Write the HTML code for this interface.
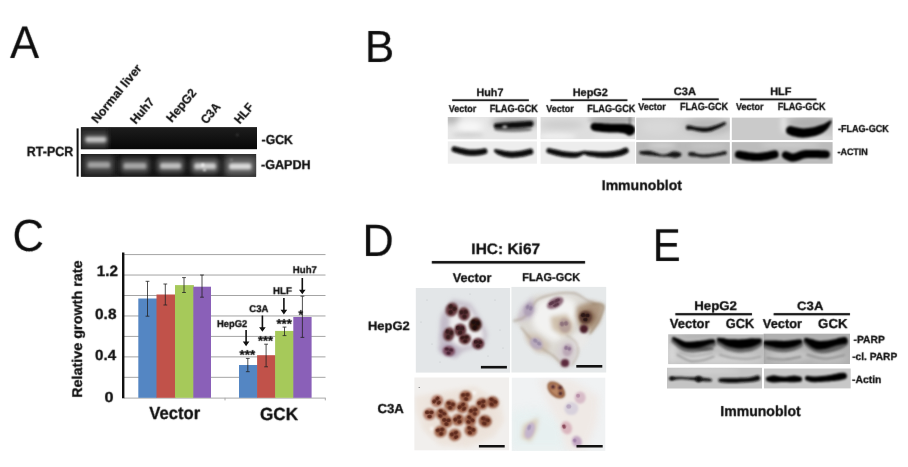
<!DOCTYPE html>
<html lang="en">
<head>
<meta charset="utf-8">
<title>Figure: GCK expression and growth</title>
<style>
html,body{margin:0;padding:0;background:#fff;}
body{width:908px;height:467px;overflow:hidden;}
svg{display:block;font-family:'Liberation Sans',Arial,Helvetica,sans-serif;text-rendering:geometricPrecision;}
</style>
</head>
<body>
<svg width="908" height="467" viewBox="0 0 908 467">
<defs>
<filter id="b03" filterUnits="userSpaceOnUse" x="0" y="0" width="908" height="467"><feConvolveMatrix order="3" kernelMatrix="0 1 0 1 12 1 0 1 0" divisor="16" edgeMode="none" preserveAlpha="false"/></filter>
<filter id="b06" filterUnits="userSpaceOnUse" x="0" y="0" width="908" height="467"><feGaussianBlur stdDeviation="0.8"/></filter>
<filter id="b1" filterUnits="userSpaceOnUse" x="0" y="0" width="908" height="467"><feGaussianBlur stdDeviation="1"/></filter>
<filter id="b15" filterUnits="userSpaceOnUse" x="0" y="0" width="908" height="467"><feGaussianBlur stdDeviation="1.5"/></filter>
<filter id="b2" filterUnits="userSpaceOnUse" x="0" y="0" width="908" height="467"><feGaussianBlur stdDeviation="2"/></filter>
<filter id="b3" filterUnits="userSpaceOnUse" x="0" y="0" width="908" height="467"><feGaussianBlur stdDeviation="3"/></filter>
<filter id="b5" filterUnits="userSpaceOnUse" x="0" y="0" width="908" height="467"><feGaussianBlur stdDeviation="5"/></filter>
</defs>
<rect x="0" y="0" width="908" height="467" fill="#ffffff"/>

<g id="panel-letters" filter="url(#b03)">
<text transform="translate(10.06 57.74) scale(0.9555 1)" font-size="45.77" font-weight="normal" fill="#0c0c0c" stroke="#0c0c0c" stroke-width="0.12" stroke-linejoin="round">A</text>
<text transform="translate(364.72 61.69) scale(0.9811 1)" font-size="45.12" font-weight="normal" fill="#0c0c0c" stroke="#0c0c0c" stroke-width="0.12" stroke-linejoin="round">B</text>
<text transform="translate(12.38 251.19) scale(0.9648 1)" font-size="45.18" font-weight="normal" fill="#0c0c0c" stroke="#0c0c0c" stroke-width="0.12" stroke-linejoin="round">C</text>
<text transform="translate(362.60 255.64) scale(0.9539 1)" font-size="45.33" font-weight="normal" fill="#0c0c0c" stroke="#0c0c0c" stroke-width="0.12" stroke-linejoin="round">D</text>
<text transform="translate(652.81 260.69) scale(0.9067 1)" font-size="46.20" font-weight="normal" fill="#0c0c0c" stroke="#0c0c0c" stroke-width="0.12" stroke-linejoin="round">E</text>
</g>
<g id="panelA">
<clipPath id="cA1"><rect x="80.9" y="127.1" width="176.1" height="22.1"/></clipPath>
<clipPath id="cA2"><rect x="80.9" y="154" width="175.2" height="22.8"/></clipPath>
<linearGradient id="gA1" x1="0" y1="0" x2="0" y2="1"><stop offset="0" stop-color="#1d1d1d"/><stop offset="1" stop-color="#070707"/></linearGradient>
<rect x="80.9" y="127.1" width="176.1" height="22.1" fill="url(#gA1)" />
<g clip-path="url(#cA1)">
<rect x="80" y="128" width="28" height="22" fill="#2c2c2c" filter="url(#b2)"/>
<rect x="83.5" y="134.2" width="24.5" height="10.5" rx="4" fill="#5c5c5c" filter="url(#b2)"/>
<rect x="85.4" y="137" width="20.8" height="5.2" rx="2.4" fill="#c4c4c4" filter="url(#b15)"/>
<circle cx="237.3" cy="134.9" r="1.1" fill="#4a4a4a" filter="url(#b06)"/>
</g>
<rect x="80.9" y="154" width="175.2" height="22.8" fill="#141414" />
<g clip-path="url(#cA2)">
<rect x="224" y="153" width="36" height="25" fill="#3c3c3c" filter="url(#b3)"/>
<rect x="81" y="153" width="34" height="25" fill="#262626" filter="url(#b3)"/>
<rect x="84.1" y="156.4" width="29.60000000000001" height="16" rx="5" fill="#464646" filter="url(#b2)"/>
<rect x="119.9" y="157.4" width="30.0" height="16" rx="5" fill="#484848" filter="url(#b2)"/>
<rect x="156.5" y="157.3" width="28.19999999999999" height="16" rx="5" fill="#505050" filter="url(#b2)"/>
<rect x="190.7" y="157.7" width="28.80000000000001" height="16" rx="5" fill="#585858" filter="url(#b2)"/>
<rect x="225.5" y="157.9" width="29.400000000000006" height="16" rx="5" fill="#626262" filter="url(#b2)"/>
<rect x="87.6" y="161.8" width="22.60000000000001" height="6.2" rx="2.6" fill="#a0a0a0" filter="url(#b15)"/>
<rect x="123.4" y="162.8" width="23.0" height="6.2" rx="2.6" fill="#a6a6a6" filter="url(#b15)"/>
<rect x="160.0" y="162.70000000000002" width="21.19999999999999" height="6.2" rx="2.6" fill="#bebebe" filter="url(#b15)"/>
<rect x="194.2" y="163.1" width="21.80000000000001" height="6.2" rx="2.6" fill="#cccccc" filter="url(#b15)"/>
<rect x="229.0" y="163.3" width="22.400000000000006" height="6.2" rx="2.6" fill="#dadada" filter="url(#b15)"/>
<circle cx="202.8" cy="165.1" r="1.5" fill="#fff" filter="url(#b06)"/>
<circle cx="204.5" cy="169.9" r="1.2" fill="#fff" filter="url(#b06)"/>
<circle cx="231.5" cy="159.8" r="0.9" fill="#aaa" filter="url(#b06)"/>
</g>
<rect x="76.6" y="128.4" width="2" height="48.2" fill="#111" />
<g filter="url(#b03)">
<text transform="translate(26.84 155.55) scale(0.9347 1)" font-size="13.33" font-weight="bold" fill="#111" stroke="#111" stroke-width="0.3" stroke-linejoin="round">RT-PCR</text>
<text transform="translate(261.56 143.65) scale(0.9501 1)" font-size="12.90" font-weight="bold" fill="#111" stroke="#111" stroke-width="0.3" stroke-linejoin="round">-GCK</text>
<text transform="translate(260.95 169.25) scale(0.9764 1)" font-size="12.90" font-weight="bold" fill="#111" stroke="#111" stroke-width="0.3" stroke-linejoin="round">-GAPDH</text>
<text transform="translate(97.50 123.70) rotate(-50.8) translate(0.15 -0.15) scale(1.0097 1) translate(-0.80 0)" font-size="12.32" font-weight="bold" fill="#111" stroke="#111" stroke-width="0.2" stroke-linejoin="round">Normal liver</text>
<text transform="translate(136.30 124.50) rotate(-49.5) translate(0.15 -0.15) scale(0.9626 1) translate(-0.80 0)" font-size="12.32" font-weight="bold" fill="#111" stroke="#111" stroke-width="0.2" stroke-linejoin="round">Huh7</text>
<text transform="translate(172.20 122.60) rotate(-49.5) translate(0.15 -0.15) scale(0.9929 1) translate(-0.80 0)" font-size="12.32" font-weight="bold" fill="#111" stroke="#111" stroke-width="0.2" stroke-linejoin="round">HepG2</text>
<text transform="translate(206.50 124.60) rotate(-49.5) translate(0.15 -0.15) scale(0.9397 1) translate(-0.49 0)" font-size="12.32" font-weight="bold" fill="#111" stroke="#111" stroke-width="0.2" stroke-linejoin="round">C3A</text>
<text transform="translate(240.30 124.20) rotate(-49.5) translate(0.15 -0.15) scale(0.9416 1) translate(-0.80 0)" font-size="12.32" font-weight="bold" fill="#111" stroke="#111" stroke-width="0.2" stroke-linejoin="round">HLF</text>
</g>
</g>
<g id="panelB">
<clipPath id="cl1"><rect x="447.8" y="117" width="89.1" height="22.3"/></clipPath>
<rect x="447.8" y="117" width="89.1" height="22.3" fill="#e6e6e6"/>
<g clip-path="url(#cl1)">
<ellipse cx="451" cy="119" rx="9" ry="5" fill="#b4b4b4" opacity="1" filter="url(#b3)"/>
<ellipse cx="470" cy="126.5" rx="13" ry="5.5" fill="#f8f8f8" opacity="1" filter="url(#b3)"/>
<ellipse cx="468" cy="134.8" rx="16" ry="1.6" fill="#c4c4c4" opacity="1" filter="url(#b2)"/>
<ellipse cx="515" cy="122.5" rx="24" ry="6" fill="#a6a6a6" opacity="1" filter="url(#b3)"/>
<ellipse cx="515" cy="137.2" rx="22" ry="2.6" fill="#e6e6e6" opacity="1" filter="url(#b2)"/>
<ellipse cx="513" cy="129.4" rx="19" ry="2.6" fill="#6c6c6c" opacity="0.85" filter="url(#b1)"/>
<path d="M496.3,123.3 L497.1,123.2 L498.3,123.1 L499.7,123.0 L501.3,122.8 L502.9,122.7 L504.0,122.6 L505.2,122.5 L506.5,122.4 L507.8,122.4 L509.1,122.3 L510.5,122.2 L511.8,122.1 L513.1,122.0 L514.3,122.0 L515.6,121.9 L516.9,121.8 L518.2,121.7 L519.4,121.7 L520.6,121.6 L521.8,121.5 L523.1,121.4 L524.5,121.3 L525.9,121.2 L527.2,121.1 L528.4,121.0 L529.4,121.0 L530.1,120.9 A3.00,3.00 0 0 1 530.7,126.9 L529.9,127.0 L528.9,127.1 L527.7,127.2 L526.4,127.3 L525.0,127.5 L523.6,127.6 L522.2,127.7 L521.0,127.8 L519.7,127.8 L518.5,127.9 L517.2,127.9 L515.9,128.0 L514.6,128.0 L513.4,128.0 L512.2,128.1 L510.8,128.2 L509.5,128.2 L508.1,128.3 L506.8,128.4 L505.5,128.4 L504.3,128.5 L503.1,128.5 L501.6,128.5 L500.0,128.5 L498.6,128.5 L497.4,128.5 L496.5,128.5 A2.60,2.60 0 0 1 496.3,123.3Z" fill="#0a0a0a" opacity="1" filter="url(#b06)"/>
<ellipse cx="504.8" cy="127.0" rx="2.6" ry="1.7" fill="#b0b0b0" opacity="1" filter="url(#b06)"/>
</g>
<clipPath id="cl2"><rect x="447.8" y="141.4" width="89.1" height="22.3"/></clipPath>
<rect x="447.8" y="141.4" width="89.1" height="22.3" fill="#eeeeee"/>
<g clip-path="url(#cl2)">
<path d="M455.2,146.5 L456.0,146.7 L457.2,147.0 L458.5,147.3 L459.9,147.7 L461.4,148.0 L462.7,148.3 L463.9,148.5 L465.2,148.8 L466.5,149.0 L467.7,149.2 L468.9,149.4 L470.1,149.5 L471.3,149.6 L472.6,149.6 L473.9,149.6 L475.2,149.5 L476.5,149.4 L477.7,149.3 L479.1,149.2 L480.7,148.9 L482.2,148.7 L483.5,148.4 L484.4,148.3 A3.00,3.00 0 0 1 485.6,154.1 L484.6,154.3 L483.3,154.6 L481.8,154.9 L480.0,155.3 L478.3,155.5 L476.9,155.6 L475.5,155.7 L474.1,155.8 L472.6,155.8 L471.2,155.8 L469.7,155.7 L468.2,155.6 L466.8,155.4 L465.4,155.2 L464.0,154.9 L462.7,154.6 L461.3,154.3 L459.9,154.0 L458.4,153.6 L456.9,153.1 L455.6,152.7 L454.4,152.3 L453.6,152.1 A2.90,2.90 0 0 1 455.2,146.5Z" fill="#080808" opacity="1" filter="url(#b06)"/>
<path d="M496.3,149.3 L497.1,149.4 L498.4,149.6 L499.9,149.7 L500.8,149.9 L501.9,150.2 L503.1,150.4 L504.3,150.7 L505.6,150.9 L506.6,151.0 L507.7,151.2 L508.8,151.3 L509.9,151.4 L511.1,151.5 L512.3,151.5 L513.3,151.5 L514.4,151.4 L515.6,151.3 L516.8,151.2 L518.0,151.1 L519.2,151.0 L520.4,150.8 L521.5,150.6 L522.7,150.4 L524.0,150.1 L525.3,149.8 L526.5,149.5 L527.7,149.2 L528.7,148.9 L529.4,148.7 A3.10,3.10 0 0 1 531.0,154.7 L530.3,154.9 L529.3,155.1 L528.1,155.5 L526.8,155.8 L525.4,156.2 L523.9,156.5 L522.5,156.8 L521.3,156.9 L520.0,157.1 L518.7,157.3 L517.4,157.4 L516.1,157.5 L514.8,157.6 L513.5,157.7 L512.3,157.7 L510.8,157.7 L509.4,157.6 L508.0,157.4 L506.8,157.2 L505.6,157.0 L504.4,156.7 L503.0,156.4 L501.6,156.0 L500.4,155.6 L499.2,155.1 L498.1,154.7 L496.7,153.8 L495.6,152.9 L494.9,152.3 A1.60,1.60 0 0 1 496.3,149.3Z" fill="#080808" opacity="1" filter="url(#b06)"/>
</g>
<clipPath id="cl3"><rect x="540.6" y="117" width="94.4" height="22.1"/></clipPath>
<rect x="540.6" y="117" width="94.4" height="22.1" fill="#dedede"/>
<g clip-path="url(#cl3)">
<ellipse cx="562" cy="124.5" rx="22" ry="4.5" fill="#cdcdcd" opacity="1" filter="url(#b3)"/>
<ellipse cx="556" cy="136.5" rx="20" ry="3" fill="#f0f0f0" opacity="1" filter="url(#b2)"/>
<ellipse cx="612" cy="119.8" rx="24" ry="4" fill="#a8a8a8" opacity="1" filter="url(#b2)"/>
<ellipse cx="612" cy="137.2" rx="20" ry="2.2" fill="#e8e8e8" opacity="1" filter="url(#b2)"/>
<rect x="628.8" y="117" width="1.8" height="8" fill="#7a7a7a" filter="url(#b1)"/>
<path d="M595.1,122.7 L595.9,122.8 L597.0,122.9 L598.2,122.9 L599.6,123.0 L601.0,123.1 L602.4,123.2 L603.5,123.3 L604.7,123.4 L606.0,123.4 L607.3,123.5 L608.6,123.6 L609.9,123.7 L611.1,123.7 L612.4,123.7 L613.6,123.7 L614.9,123.7 L616.3,123.7 L617.6,123.7 L618.9,123.7 L620.3,123.7 L622.0,123.7 L623.7,123.8 L625.2,123.8 L626.7,123.9 L628.3,124.1 L630.7,124.5 L632.2,125.0 A5.60,5.60 0 0 1 627.0,135.0 L626.8,134.6 L625.7,133.9 L625.2,133.7 L624.0,133.4 L622.7,133.1 L621.2,132.9 L619.7,132.7 L618.7,132.6 L617.5,132.6 L616.3,132.5 L615.0,132.5 L613.6,132.5 L612.2,132.5 L610.9,132.5 L609.5,132.4 L608.2,132.4 L606.8,132.3 L605.5,132.3 L604.2,132.2 L602.9,132.1 L601.6,132.0 L600.2,131.8 L598.7,131.6 L597.3,131.4 L596.0,131.2 L594.9,131.0 L594.1,130.9 A4.10,4.10 0 0 1 595.1,122.7Z" fill="#050505" opacity="1" filter="url(#b06)"/>
</g>
<clipPath id="cl4"><rect x="540.6" y="141.7" width="94.4" height="22.1"/></clipPath>
<rect x="540.6" y="141.7" width="94.4" height="22.1" fill="#ededed"/>
<g clip-path="url(#cl4)">
<path d="M549.5,148.2 L550.3,148.4 L551.5,148.6 L552.8,148.9 L554.3,149.2 L555.7,149.5 L556.9,149.8 L558.0,150.1 L559.2,150.3 L560.3,150.6 L561.6,150.9 L563.1,151.1 L564.1,151.3 L565.3,151.4 L566.6,151.5 L567.9,151.7 L569.3,151.8 L570.6,151.9 L571.9,152.0 L573.1,152.1 L574.1,152.2 L575.0,152.2 L576.4,152.2 L577.4,152.1 L578.4,152.0 L579.4,151.8 L580.3,151.6 L582.1,151.2 L584.0,150.8 L585.6,150.8 L586.7,150.9 L588.5,151.0 L589.2,151.1 L590.3,151.2 L591.5,151.2 L592.8,151.3 L594.2,151.4 L595.5,151.5 L596.8,151.6 L598.0,151.7 L599.1,151.7 L600.6,151.8 L601.9,151.8 L603.2,151.8 L604.4,151.8 L605.6,151.8 L606.9,151.7 L608.1,151.6 L609.4,151.5 L610.6,151.4 L611.8,151.3 L612.9,151.1 L614.0,150.9 L615.4,150.7 L616.6,150.5 L617.8,150.2 L619.0,149.9 L620.0,149.7 L621.4,149.2 L622.8,148.6 L624.0,148.1 L625.0,147.7 A3.00,3.00 0 0 1 627.4,153.1 L626.6,153.6 L625.2,154.2 L623.6,154.9 L622.0,155.5 L620.6,155.9 L619.2,156.3 L617.8,156.6 L616.4,156.8 L615.0,157.1 L613.7,157.2 L612.4,157.4 L611.1,157.5 L609.8,157.6 L608.5,157.7 L607.1,157.7 L605.8,157.7 L604.5,157.7 L603.1,157.7 L601.7,157.7 L600.3,157.6 L598.7,157.5 L597.5,157.4 L596.3,157.2 L594.9,157.0 L593.6,156.8 L592.2,156.6 L590.9,156.4 L589.7,156.2 L588.6,156.0 L587.5,155.8 L585.6,155.1 L584.7,154.4 L584.4,154.2 L583.3,154.6 L581.7,155.6 L580.8,156.0 L579.9,156.5 L578.7,157.1 L577.1,157.5 L575.2,157.8 L574.1,157.8 L572.8,157.8 L571.5,157.8 L570.2,157.7 L568.8,157.6 L567.4,157.4 L566.0,157.3 L564.7,157.2 L563.4,157.0 L562.3,156.9 L560.6,156.6 L559.1,156.3 L557.8,156.0 L556.5,155.7 L555.4,155.4 L554.3,155.1 L552.9,154.7 L551.4,154.3 L550.1,153.8 L548.9,153.5 L548.1,153.2 A2.60,2.60 0 0 1 549.5,148.2Z" fill="#080808" opacity="1" filter="url(#b06)"/>
</g>
<clipPath id="cl5"><rect x="636.2" y="117.6" width="93.6" height="22.3"/></clipPath>
<rect x="636.2" y="117.6" width="93.6" height="22.3" fill="#d2d2d2"/>
<g clip-path="url(#cl5)">
<ellipse cx="708" cy="126" rx="24" ry="8" fill="#b8b8b8" opacity="1" filter="url(#b3)"/>
<ellipse cx="660" cy="127" rx="18" ry="8" fill="#d8d8d8" opacity="1" filter="url(#b3)"/>
<path d="M688.3,125.3 L689.5,125.5 L691.3,125.8 L692.5,126.1 L693.7,126.4 L695.3,126.7 L696.3,126.9 L697.5,127.0 L698.8,127.2 L700.2,127.3 L701.5,127.5 L702.7,127.6 L703.8,127.6 L705.1,127.6 L706.3,127.5 L707.4,127.4 L708.5,127.2 L709.5,127.0 L710.7,126.8 L711.7,126.5 L712.7,126.2 L713.9,125.8 L715.2,125.4 L716.6,125.0 L718.0,124.5 L719.3,124.0 L720.6,123.5 L722.0,123.0 L723.1,122.5 L724.0,122.1 A1.40,1.40 0 0 1 725.2,124.7 L724.4,125.1 L723.3,125.7 L722.0,126.5 L720.7,127.2 L719.4,127.8 L718.0,128.4 L716.6,129.0 L715.3,129.6 L714.2,130.1 L713.1,130.5 L711.8,131.0 L710.5,131.4 L709.3,131.6 L708.0,131.8 L706.7,132.0 L705.2,132.0 L703.6,132.0 L702.3,131.9 L701.0,131.7 L699.6,131.4 L698.2,131.2 L696.9,130.9 L695.7,130.7 L694.7,130.5 L692.9,130.1 L691.7,129.9 L690.7,129.8 L689.2,129.8 L688.1,129.9 A2.30,2.30 0 0 1 688.3,125.3Z" fill="#101010" opacity="1" filter="url(#b06)"/>
</g>
<clipPath id="cl6"><rect x="636.2" y="142.1" width="93.6" height="21.6"/></clipPath>
<rect x="636.2" y="142.1" width="93.6" height="21.6" fill="#bababa"/>
<g clip-path="url(#cl6)">
<ellipse cx="662" cy="145.5" rx="14" ry="2.5" fill="#d2d2d2" opacity="1" filter="url(#b2)"/>
<ellipse cx="708" cy="146" rx="18" ry="2.5" fill="#c6c6c6" opacity="1" filter="url(#b2)"/>
<path d="M641.0,151.1 L642.0,151.0 L643.5,150.9 L645.1,150.8 L646.3,150.8 L647.6,150.8 L649.0,150.8 L650.5,151.0 L652.0,151.4 L653.5,151.8 L654.9,152.4 L656.3,152.8 L657.5,153.2 L658.8,153.7 L660.0,154.1 L661.1,154.4 L662.3,154.6 L663.7,154.5 L665.1,154.4 L666.5,154.1 L667.8,153.7 L669.2,153.1 L670.4,152.4 L671.8,151.8 L673.3,151.5 L674.8,151.4 L676.0,151.4 L678.0,151.9 L679.4,152.5 A2.10,2.10 0 0 1 679.4,156.7 L678.0,157.3 L676.0,157.8 L674.7,157.8 L673.4,157.6 L672.2,157.4 L671.1,157.1 L669.8,156.9 L668.2,156.7 L666.8,156.6 L665.3,156.7 L663.8,156.7 L662.1,156.6 L660.8,156.5 L659.5,156.4 L658.2,156.3 L656.9,156.1 L655.7,156.0 L654.1,155.8 L652.6,155.6 L651.2,155.5 L649.9,155.4 L648.7,155.3 L647.4,155.2 L646.1,155.1 L644.9,155.0 L643.3,154.8 L641.8,154.5 L640.8,154.3 A1.60,1.60 0 0 1 641.0,151.1Z" fill="#121212" opacity="1" filter="url(#b06)"/>
<path d="M690.3,152.0 L691.5,152.0 L693.3,152.1 L694.7,152.6 L696.0,153.2 L697.3,153.6 L698.7,153.9 L700.1,154.1 L701.6,154.3 L702.8,154.3 L704.2,154.3 L705.5,154.2 L706.9,154.1 L708.2,154.0 L709.4,153.9 L710.8,153.7 L712.2,153.5 L713.4,153.4 L714.7,153.2 L716.1,153.0 L717.4,152.8 L718.7,152.5 L720.0,152.2 L721.5,151.8 L722.9,151.4 L724.2,151.1 L725.1,150.9 A1.90,1.90 0 0 1 725.9,154.5 L725.1,154.7 L723.8,155.0 L722.3,155.3 L720.8,155.6 L719.3,155.9 L717.9,156.1 L716.6,156.3 L715.2,156.5 L713.9,156.7 L712.6,156.9 L711.2,157.1 L709.8,157.2 L708.5,157.4 L707.1,157.5 L705.7,157.6 L704.2,157.6 L702.8,157.6 L701.4,157.5 L699.7,157.3 L698.1,157.0 L696.7,156.8 L695.2,156.6 L693.8,156.5 L692.7,156.5 L691.2,156.3 L690.1,156.2 A2.10,2.10 0 0 1 690.3,152.0Z" fill="#1a1a1a" opacity="1" filter="url(#b06)"/>
</g>
<clipPath id="cl7"><rect x="731.8" y="117.6" width="100.8" height="22.4"/></clipPath>
<rect x="731.8" y="117.6" width="100.8" height="22.4" fill="#cacaca"/>
<g clip-path="url(#cl7)">
<ellipse cx="812" cy="123" rx="24" ry="7" fill="#b0b0b0" opacity="1" filter="url(#b3)"/>
<ellipse cx="783.5" cy="124" rx="3" ry="10" fill="#e2e2e2" opacity="1" filter="url(#b2)"/>
<ellipse cx="815" cy="138.4" rx="20" ry="2" fill="#e2e2e2" opacity="1" filter="url(#b2)"/>
<path d="M791.8,126.2 L792.6,126.4 L793.7,126.7 L794.8,127.0 L796.1,127.2 L797.0,127.4 L798.2,127.6 L799.3,127.9 L800.5,128.1 L801.6,128.2 L802.5,128.3 L803.7,128.4 L804.9,128.3 L806.1,128.3 L807.4,128.1 L808.6,128.0 L809.8,127.8 L811.0,127.6 L812.1,127.4 L813.1,127.2 L814.3,127.0 L815.3,126.7 L816.3,126.4 L817.4,126.1 L818.6,125.7 L819.9,125.3 L821.1,125.0 L822.2,124.6 L823.4,124.2 L824.5,123.7 L825.7,123.1 L827.0,122.3 L828.5,121.5 L829.5,120.8 A1.20,1.20 0 0 1 831.3,122.4 L830.8,123.5 L830.0,125.1 L829.1,126.7 L828.2,128.0 L827.2,129.3 L825.8,130.6 L824.6,131.5 L823.3,132.4 L821.9,133.2 L820.6,133.9 L819.3,134.5 L818.1,135.0 L816.7,135.5 L815.3,136.0 L814.0,136.3 L812.6,136.6 L811.3,136.8 L809.9,137.1 L808.6,137.3 L807.0,137.5 L805.5,137.6 L803.7,137.7 L801.9,137.7 L800.5,137.6 L799.1,137.4 L797.7,137.2 L796.4,136.9 L795.1,136.6 L793.9,136.4 L792.3,135.9 L790.8,135.4 L789.7,134.9 L789.0,134.6 A4.40,4.40 0 0 1 791.8,126.2Z" fill="#050505" opacity="1" filter="url(#b06)"/>
</g>
<clipPath id="cl8"><rect x="731.8" y="142.1" width="100.8" height="21.6"/></clipPath>
<rect x="731.8" y="142.1" width="100.8" height="21.6" fill="#bcbcbc"/>
<g clip-path="url(#cl8)">
<ellipse cx="790" cy="145" rx="30" ry="2.5" fill="#cecece" opacity="1" filter="url(#b2)"/>
<path d="M738.9,150.8 L739.8,150.8 L741.2,151.0 L742.8,151.2 L743.8,151.4 L744.9,151.6 L746.1,151.8 L747.3,152.0 L748.6,152.2 L749.6,152.4 L750.7,152.5 L751.8,152.6 L753.0,152.7 L754.2,152.8 L755.3,152.9 L756.4,152.9 L757.5,152.9 L758.7,152.9 L759.9,152.8 L761.0,152.7 L762.2,152.6 L763.3,152.5 L764.4,152.3 L765.7,152.1 L767.1,151.9 L768.4,151.6 L769.8,151.3 L770.9,151.0 L771.9,150.8 L773.3,150.5 L773.7,150.5 A4.00,4.00 0 0 1 775.5,158.3 L775.1,158.5 L773.7,158.8 L772.8,159.0 L771.6,159.3 L770.2,159.6 L768.7,159.9 L767.1,160.2 L765.6,160.5 L764.3,160.6 L763.0,160.8 L761.7,160.9 L760.4,161.0 L759.0,161.0 L757.7,161.1 L756.4,161.1 L755.0,161.1 L753.7,161.0 L752.3,160.9 L751.0,160.8 L749.8,160.6 L748.6,160.5 L747.4,160.4 L746.0,160.2 L744.6,159.9 L743.3,159.7 L742.2,159.4 L741.2,159.2 L739.7,158.9 L738.4,158.5 L737.5,158.2 A3.80,3.80 0 0 1 738.9,150.8Z" fill="#050505" opacity="1" filter="url(#b06)"/>
<path d="M787.0,151.6 L788.0,152.0 L789.7,152.6 L790.8,153.0 L791.9,153.4 L792.6,153.5 L793.1,153.4 L794.2,153.2 L795.5,152.9 L796.7,152.5 L797.8,152.1 L799.0,151.6 L800.5,150.9 L802.4,150.4 L804.1,150.2 L805.7,150.0 L807.2,150.0 L808.6,150.0 L809.9,150.0 L811.3,150.0 L812.7,150.0 L814.0,150.0 L815.3,150.1 L816.5,150.1 L818.0,150.1 L819.4,150.1 L820.8,150.2 L822.1,150.2 L823.7,150.3 L825.1,150.3 L826.1,150.4 A3.90,3.90 0 0 1 825.9,158.2 L824.9,158.2 L823.5,158.2 L821.9,158.2 L820.7,158.2 L819.3,158.2 L817.8,158.1 L816.3,158.1 L815.1,158.1 L813.8,158.0 L812.5,158.0 L811.3,158.0 L810.1,158.0 L808.7,158.0 L807.4,158.1 L806.1,158.2 L805.0,158.3 L804.2,158.4 L803.2,158.7 L802.2,159.1 L800.9,159.7 L799.3,160.3 L797.7,160.8 L796.1,161.2 L794.3,161.6 L792.2,161.7 L789.7,161.3 L787.8,160.5 L786.3,159.8 L784.6,158.9 L783.4,158.0 A3.70,3.70 0 0 1 787.0,151.6Z" fill="#050505" opacity="1" filter="url(#b06)"/>
</g>
<g filter="url(#b03)">
<text transform="translate(476.45 96.23) scale(0.9974 1)" font-size="10.80" font-weight="bold" fill="#111" stroke="#111" stroke-width="0.3" stroke-linejoin="round">Huh7</text>
<text transform="translate(572.74 96.23) scale(1.0106 1)" font-size="10.80" font-weight="bold" fill="#111" stroke="#111" stroke-width="0.3" stroke-linejoin="round">HepG2</text>
<text transform="translate(673.71 95.48) scale(1.0264 1)" font-size="10.80" font-weight="bold" fill="#111" stroke="#111" stroke-width="0.3" stroke-linejoin="round">C3A</text>
<text transform="translate(770.19 95.38) scale(1.0138 1)" font-size="10.80" font-weight="bold" fill="#111" stroke="#111" stroke-width="0.3" stroke-linejoin="round">HLF</text>
<rect x="452.1" y="99.3" width="76.8" height="1.8" fill="#111" />
<rect x="550.6" y="99.3" width="76.8" height="1.8" fill="#111" />
<rect x="642" y="98.35" width="76.8" height="1.9" fill="#111" />
<rect x="740" y="98.45" width="76.5" height="1.9" fill="#111" />
<text transform="translate(448.86 111.60) scale(0.9079 1)" font-size="9.86" font-weight="bold" fill="#111" stroke="#111" stroke-width="0.3" stroke-linejoin="round">Vector</text>
<text transform="translate(546.21 111.60) scale(0.9112 1)" font-size="9.86" font-weight="bold" fill="#111" stroke="#111" stroke-width="0.3" stroke-linejoin="round">Vector</text>
<text transform="translate(638.36 110.10) scale(0.9129 1)" font-size="9.86" font-weight="bold" fill="#111" stroke="#111" stroke-width="0.3" stroke-linejoin="round">Vector</text>
<text transform="translate(736.01 110.10) scale(0.9112 1)" font-size="9.86" font-weight="bold" fill="#111" stroke="#111" stroke-width="0.3" stroke-linejoin="round">Vector</text>
<text transform="translate(489.65 111.85) scale(0.8772 1)" font-size="10.43" font-weight="bold" fill="#111" stroke="#111" stroke-width="0.3" stroke-linejoin="round">FLAG-GCK</text>
<text transform="translate(587.16 111.85) scale(0.8754 1)" font-size="10.43" font-weight="bold" fill="#111" stroke="#111" stroke-width="0.3" stroke-linejoin="round">FLAG-GCK</text>
<text transform="translate(679.95 110.35) scale(0.8772 1)" font-size="10.43" font-weight="bold" fill="#111" stroke="#111" stroke-width="0.3" stroke-linejoin="round">FLAG-GCK</text>
<text transform="translate(777.66 110.35) scale(0.8699 1)" font-size="10.43" font-weight="bold" fill="#111" stroke="#111" stroke-width="0.3" stroke-linejoin="round">FLAG-GCK</text>
<text transform="translate(837.89 131.60) scale(0.9017 1)" font-size="10.07" font-weight="bold" fill="#111" stroke="#111" stroke-width="0.3" stroke-linejoin="round">-FLAG-GCK</text>
<text transform="translate(837.39 154.85) scale(0.9621 1)" font-size="9.35" font-weight="bold" fill="#111" stroke="#111" stroke-width="0.3" stroke-linejoin="round">-ACTIN</text>
<text transform="translate(601.74 190.35) scale(0.9980 1)" font-size="14.06" font-weight="bold" fill="#111" stroke="#111" stroke-width="0.3" stroke-linejoin="round">Immunoblot</text>
</g>
</g>
<g id="panelC">
<line x1="124" y1="377.34" x2="325.5" y2="377.34" stroke="#858585" stroke-width="0.75" />
<line x1="124" y1="356.88" x2="325.5" y2="356.88" stroke="#858585" stroke-width="0.75" />
<line x1="124" y1="336.42" x2="325.5" y2="336.42" stroke="#858585" stroke-width="0.75" />
<line x1="124" y1="315.96" x2="325.5" y2="315.96" stroke="#858585" stroke-width="0.75" />
<line x1="124" y1="295.5" x2="325.5" y2="295.5" stroke="#858585" stroke-width="0.75" />
<line x1="124" y1="275.04" x2="325.5" y2="275.04" stroke="#858585" stroke-width="0.75" />
<line x1="124" y1="254.58" x2="325.5" y2="254.58" stroke="#858585" stroke-width="0.75" />
<line x1="124" y1="398.1" x2="325.5" y2="398.1" stroke="#a8a8a8" stroke-width="1" />
<line x1="225" y1="397.8" x2="225" y2="400.40000000000003" stroke="#a8a8a8" stroke-width="1" />
<line x1="325.3" y1="397.8" x2="325.3" y2="400.40000000000003" stroke="#a8a8a8" stroke-width="1" />
<rect x="138.3" y="298.5" width="18.8" height="99.3" fill="#5486c3" />
<rect x="156.5" y="294.5" width="19.1" height="103.3" fill="#c1524a" />
<rect x="175.0" y="285.1" width="18.9" height="112.7" fill="#a6c95a" />
<rect x="193.3" y="286.7" width="17.7" height="111.1" fill="#8a60b8" />
<rect x="239" y="365" width="18.7" height="32.8" fill="#5486c3" />
<rect x="257.1" y="355.2" width="18.6" height="42.6" fill="#c1524a" />
<rect x="275.1" y="330.9" width="18.8" height="66.9" fill="#a6c95a" />
<rect x="293.3" y="317.0" width="18.3" height="80.8" fill="#8a60b8" />
<line x1="147.5" y1="281.3" x2="147.5" y2="316.2" stroke="#222" stroke-width="0.8" />
<line x1="145.6" y1="281.3" x2="149.4" y2="281.3" stroke="#222" stroke-width="0.8" />
<line x1="145.6" y1="316.2" x2="149.4" y2="316.2" stroke="#222" stroke-width="0.8" />
<line x1="165.3" y1="284" x2="165.3" y2="305" stroke="#222" stroke-width="0.8" />
<line x1="163.4" y1="284" x2="167.20000000000002" y2="284" stroke="#222" stroke-width="0.8" />
<line x1="163.4" y1="305" x2="167.20000000000002" y2="305" stroke="#222" stroke-width="0.8" />
<line x1="184" y1="277.6" x2="184" y2="292.5" stroke="#222" stroke-width="0.8" />
<line x1="182.1" y1="277.6" x2="185.9" y2="277.6" stroke="#222" stroke-width="0.8" />
<line x1="182.1" y1="292.5" x2="185.9" y2="292.5" stroke="#222" stroke-width="0.8" />
<line x1="202" y1="275" x2="202" y2="297.2" stroke="#222" stroke-width="0.8" />
<line x1="200.1" y1="275" x2="203.9" y2="275" stroke="#222" stroke-width="0.8" />
<line x1="200.1" y1="297.2" x2="203.9" y2="297.2" stroke="#222" stroke-width="0.8" />
<line x1="247.8" y1="358.4" x2="247.8" y2="371.7" stroke="#222" stroke-width="0.8" />
<line x1="245.9" y1="358.4" x2="249.70000000000002" y2="358.4" stroke="#222" stroke-width="0.8" />
<line x1="245.9" y1="371.7" x2="249.70000000000002" y2="371.7" stroke="#222" stroke-width="0.8" />
<line x1="266.1" y1="344.2" x2="266.1" y2="366.8" stroke="#222" stroke-width="0.8" />
<line x1="264.20000000000005" y1="344.2" x2="268.0" y2="344.2" stroke="#222" stroke-width="0.8" />
<line x1="264.20000000000005" y1="366.8" x2="268.0" y2="366.8" stroke="#222" stroke-width="0.8" />
<line x1="284.5" y1="327.1" x2="284.5" y2="335.6" stroke="#222" stroke-width="0.8" />
<line x1="282.6" y1="327.1" x2="286.4" y2="327.1" stroke="#222" stroke-width="0.8" />
<line x1="282.6" y1="335.6" x2="286.4" y2="335.6" stroke="#222" stroke-width="0.8" />
<line x1="302.4" y1="296.2" x2="302.4" y2="337.4" stroke="#222" stroke-width="0.8" />
<line x1="300.5" y1="296.2" x2="304.29999999999995" y2="296.2" stroke="#222" stroke-width="0.8" />
<line x1="300.5" y1="337.4" x2="304.29999999999995" y2="337.4" stroke="#222" stroke-width="0.8" />
<rect x="122" y="252.5" width="2.4" height="145.8" fill="#111" />
<g filter="url(#b03)">
<text transform="translate(96.73 276.15) scale(1.0132 1)" font-size="15.07" font-weight="bold" fill="#111" stroke="#111" stroke-width="0.3" stroke-linejoin="round">1.2</text>
<text transform="translate(95.03 319.25) scale(1.0455 1)" font-size="14.78" font-weight="bold" fill="#111" stroke="#111" stroke-width="0.3" stroke-linejoin="round">0.8</text>
<text transform="translate(95.04 360.05) scale(1.0362 1)" font-size="14.64" font-weight="bold" fill="#111" stroke="#111" stroke-width="0.3" stroke-linejoin="round">0.4</text>
<text transform="translate(104.60 401.65) scale(1.1298 1)" font-size="14.35" font-weight="bold" fill="#111" stroke="#111" stroke-width="0.3" stroke-linejoin="round">0</text>
<text transform="translate(82.60 397.00) rotate(-90) translate(0.15 -0.15) scale(1.0224 1) translate(-0.91 0)" font-size="14.06" font-weight="bold" fill="#111" stroke="#111" stroke-width="0.3" stroke-linejoin="round">Relative growth rate</text>
<text transform="translate(149.37 418.75) scale(0.9492 1)" font-size="17.54" font-weight="bold" fill="#111" stroke="#111" stroke-width="0.3" stroke-linejoin="round">Vector</text>
<text transform="translate(259.96 419.65) scale(0.9776 1)" font-size="17.54" font-weight="bold" fill="#111" stroke="#111" stroke-width="0.3" stroke-linejoin="round">GCK</text>
<text transform="translate(216.94 327.10) scale(0.9697 1)" font-size="9.70" font-weight="bold" fill="#111" stroke="#111" stroke-width="0.3" stroke-linejoin="round">HepG2</text>
<text transform="translate(249.37 311.50) scale(0.9856 1)" font-size="9.70" font-weight="bold" fill="#111" stroke="#111" stroke-width="0.3" stroke-linejoin="round">C3A</text>
<text transform="translate(273.12 293.70) scale(1.0002 1)" font-size="9.70" font-weight="bold" fill="#111" stroke="#111" stroke-width="0.3" stroke-linejoin="round">HLF</text>
<text transform="translate(292.82 273.30) scale(0.9943 1)" font-size="9.70" font-weight="bold" fill="#111" stroke="#111" stroke-width="0.3" stroke-linejoin="round">Huh7</text>
<text transform="translate(239.58 358.81) scale(1.0519 1)" font-size="12.70" font-weight="bold" fill="#111" stroke="#111" stroke-width="0.3" stroke-linejoin="round">***</text>
<text transform="translate(258.09 345.41) scale(1.0112 1)" font-size="12.70" font-weight="bold" fill="#111" stroke="#111" stroke-width="0.3" stroke-linejoin="round">***</text>
<text transform="translate(276.48 328.31) scale(1.0383 1)" font-size="12.70" font-weight="bold" fill="#111" stroke="#111" stroke-width="0.3" stroke-linejoin="round">***</text>
<text transform="translate(298.39 318.61) scale(0.9115 1)" font-size="12.70" font-weight="bold" fill="#111" stroke="#111" stroke-width="0.3" stroke-linejoin="round">*</text>
</g>
<path d="M245.29999999999998,330 H246.9 V341.59999999999997 H249.4 L246.1,346.2 L242.79999999999998,341.59999999999997 H245.29999999999998 Z" fill="#111"/>
<path d="M261.59999999999997,315.4 H263.2 V327.2 H265.7 L262.4,331.8 L259.09999999999997,327.2 H261.59999999999997 Z" fill="#111"/>
<path d="M283.09999999999997,298 H284.7 V309.79999999999995 H287.2 L283.9,314.4 L280.59999999999997,309.79999999999995 H283.09999999999997 Z" fill="#111"/>
<path d="M301.5,278 H303.1 V289.7 H305.6 L302.3,294.3 L299.0,289.7 H301.5 Z" fill="#111"/>
</g>
<g id="panelD">
<g filter="url(#b03)">
<text transform="translate(471.35 254.15) scale(1.0160 1)" font-size="15.22" font-weight="bold" fill="#111" stroke="#111" stroke-width="0.3" stroke-linejoin="round">IHC: Ki67</text>
<rect x="431.8" y="261" width="153.3" height="2.6" fill="#111" />
<text transform="translate(452.69 281.85) scale(1.0044 1)" font-size="12.61" font-weight="bold" fill="#111" stroke="#111" stroke-width="0.3" stroke-linejoin="round">Vector</text>
<text transform="translate(522.24 281.35) scale(0.9697 1)" font-size="11.30" font-weight="bold" fill="#111" stroke="#111" stroke-width="0.3" stroke-linejoin="round">FLAG-GCK</text>
<text transform="translate(367.91 330.15) scale(1.0528 1)" font-size="12.32" font-weight="bold" fill="#111" stroke="#111" stroke-width="0.3" stroke-linejoin="round">HepG2</text>
<text transform="translate(377.42 413.15) scale(1.0143 1)" font-size="13.04" font-weight="bold" fill="#111" stroke="#111" stroke-width="0.3" stroke-linejoin="round">C3A</text>
</g>
<clipPath id="cl9"><rect x="415.8" y="288" width="94.3" height="84.6"/></clipPath>
<rect x="415.8" y="288" width="94.3" height="84.6" fill="#e3e6e8"/>
<g clip-path="url(#cl9)">
<polygon points="452.6,299.2 470.5,303.3 482.2,321.4 487.5,334.1 484.1,346.7 470.5,348.9 463.4,351.6 455.8,357.6 441.5,352.7 438.9,342.5 442.3,325.6 441.5,314.3" fill="#c6bfca" opacity="1" filter="url(#b2)"/>
<polygon points="454.0,305.8 469.0,308.2 479.6,323.7 483.7,335.4 480.0,343.3 469.0,345.2 460.0,346.7 452.4,342.5 449.1,327.8 450.2,314.3" fill="#f1f0f1" opacity="0.95" filter="url(#b2)"/>
<polygon points="438.1,348.2 446.0,342.5 459.6,349.7 455.1,357.2 442.3,353.5" fill="#bcb0c2" opacity="0.95" filter="url(#b2)"/>
<polygon points="440.4,319.9 445.1,314.3 447.0,329.3 444.2,340.7 440.0,338.8" fill="#bfb6c6" opacity="0.8" filter="url(#b2)"/>
<g transform="rotate(25 451.8 309.6)" opacity="1">
<ellipse cx="451.8" cy="309.6" rx="6.199999999999999" ry="7.199999999999999" fill="#65393c" filter="url(#b06)"/>
<ellipse cx="449.6" cy="307.4" rx="2.2" ry="2.4" fill="#381a1c" filter="url(#b03)"/>
<ellipse cx="453.7" cy="307.8" rx="2.2" ry="2.4" fill="#381a1c" filter="url(#b03)"/>
<ellipse cx="451.8" cy="312.3" rx="2.2" ry="2.4" fill="#381a1c" filter="url(#b03)"/>
</g>
<g transform="rotate(-10 464.0 313.9)" opacity="1">
<ellipse cx="464.0" cy="313.9" rx="5.8999999999999995" ry="6.8" fill="#65393c" filter="url(#b06)"/>
<ellipse cx="461.9" cy="311.9" rx="2.1" ry="2.2" fill="#381a1c" filter="url(#b03)"/>
<ellipse cx="465.8" cy="312.2" rx="2.1" ry="2.2" fill="#381a1c" filter="url(#b03)"/>
<ellipse cx="464.0" cy="316.5" rx="2.1" ry="2.2" fill="#381a1c" filter="url(#b03)"/>
</g>
<g transform="rotate(10 475.3 324.7)" opacity="1">
<ellipse cx="475.3" cy="324.7" rx="6.3999999999999995" ry="7.1" fill="#3d1a16" filter="url(#b06)"/>
<ellipse cx="473.1" cy="322.6" rx="2.3" ry="2.3" fill="#1c0a08" filter="url(#b03)"/>
<ellipse cx="477.2" cy="322.9" rx="2.3" ry="2.3" fill="#1c0a08" filter="url(#b03)"/>
<ellipse cx="475.3" cy="327.4" rx="2.3" ry="2.3" fill="#1c0a08" filter="url(#b03)"/>
</g>
<g transform="rotate(0 460.2 330.0)" opacity="1">
<ellipse cx="460.2" cy="330.0" rx="6.1" ry="6.6" fill="#62363a" filter="url(#b06)"/>
<ellipse cx="458.1" cy="328.0" rx="2.2" ry="2.2" fill="#381a1c" filter="url(#b03)"/>
<ellipse cx="462.0" cy="328.4" rx="2.2" ry="2.2" fill="#381a1c" filter="url(#b03)"/>
<ellipse cx="460.2" cy="332.5" rx="2.2" ry="2.2" fill="#381a1c" filter="url(#b03)"/>
</g>
<g transform="rotate(15 448.9 334.2)" opacity="1">
<ellipse cx="448.9" cy="334.2" rx="5.6" ry="7.0" fill="#62363a" filter="url(#b06)"/>
<ellipse cx="446.9" cy="332.1" rx="2.0" ry="2.3" fill="#381a1c" filter="url(#b03)"/>
<ellipse cx="450.6" cy="332.4" rx="2.0" ry="2.3" fill="#381a1c" filter="url(#b03)"/>
<ellipse cx="448.9" cy="336.9" rx="2.0" ry="2.3" fill="#381a1c" filter="url(#b03)"/>
</g>
<g transform="rotate(-10 464.9 338.9)" opacity="1">
<ellipse cx="464.9" cy="338.9" rx="6.1" ry="5.5" fill="#5e3036" filter="url(#b06)"/>
<ellipse cx="462.8" cy="337.2" rx="2.2" ry="1.8" fill="#361618" filter="url(#b03)"/>
<ellipse cx="466.7" cy="337.5" rx="2.2" ry="1.8" fill="#361618" filter="url(#b03)"/>
<ellipse cx="464.9" cy="341.0" rx="2.2" ry="1.8" fill="#361618" filter="url(#b03)"/>
</g>
<g transform="rotate(0 478.1 343.6)" opacity="1">
<ellipse cx="478.1" cy="343.6" rx="6.1" ry="5.8" fill="#63363e" filter="url(#b06)"/>
<ellipse cx="476.0" cy="341.9" rx="2.2" ry="1.9" fill="#381a1c" filter="url(#b03)"/>
<ellipse cx="479.9" cy="342.2" rx="2.2" ry="1.9" fill="#381a1c" filter="url(#b03)"/>
<ellipse cx="478.1" cy="345.8" rx="2.2" ry="1.9" fill="#381a1c" filter="url(#b03)"/>
</g>
<g transform="rotate(10 448.9 351.0)" opacity="1">
<ellipse cx="448.9" cy="351.0" rx="6.199999999999999" ry="5.199999999999999" fill="#7a4e62" filter="url(#b06)"/>
<ellipse cx="446.7" cy="349.4" rx="2.2" ry="1.7" fill="#4a2434" filter="url(#b03)"/>
<ellipse cx="450.8" cy="349.7" rx="2.2" ry="1.7" fill="#4a2434" filter="url(#b03)"/>
<ellipse cx="448.9" cy="353.0" rx="2.2" ry="1.7" fill="#4a2434" filter="url(#b03)"/>
</g>
<circle cx="427" cy="300" r="0.5" fill="#b8bcbe"/>
<circle cx="432" cy="344" r="0.5" fill="#b8bcbe"/>
<circle cx="495" cy="300" r="0.5" fill="#b8bcbe"/>
<circle cx="500" cy="330" r="0.5" fill="#b8bcbe"/>
<circle cx="421" cy="322" r="0.5" fill="#b8bcbe"/>
<circle cx="488" cy="356" r="0.5" fill="#b8bcbe"/>
<circle cx="440" cy="362" r="0.5" fill="#b8bcbe"/>
<circle cx="503" cy="348" r="0.5" fill="#b8bcbe"/>
<circle cx="470" cy="294" r="0.5" fill="#b8bcbe"/>
</g>
<rect x="480.9" y="365.9" width="26" height="2.6" fill="#111" />
<clipPath id="cl10"><rect x="511.4" y="286.9" width="94.8" height="85.6"/></clipPath>
<rect x="511.4" y="286.9" width="94.8" height="85.6" fill="#e6e9ea"/>
<g clip-path="url(#cl10)">
<polygon points="513.8,320.9 527.0,304.8 534.5,295.4 557.1,291.7 576.0,292.6 591.0,303.0 602.3,304.8 598.6,321.8 589.2,335.0 579.7,348.2 574.1,361.4 564.7,368.9 555.2,359.5 538.3,352.0 527.0,340.7 521.3,327.5" fill="#d9d5cf" opacity="0.9" filter="url(#b2)"/>
<polygon points="538.3,301.1 557.1,295.4 574.1,299.2 577.8,312.4 574.1,323.7 566.5,335.0 555.2,342.5 547.7,338.8 534.5,329.3 530.7,318.0" fill="#f4f4f3" opacity="0.95" filter="url(#b3)"/>
<polygon points="572.2,333.1 585.4,331.2 589.2,338.8 581.6,350.1 572.2,346.3" fill="#eeeeed" opacity="0.8" filter="url(#b2)"/>
<polygon points="576.9,306.7 591.0,301.1 603.9,304.8 599.3,321.8 591.4,330.9 580.1,327.1 576.0,316.2" fill="#a99077" opacity="0.9" filter="url(#b2)"/>
<polygon points="580.7,312.4 591.0,309.6 595.8,317.1 591.0,324.6 581.6,323.7" fill="#7e5f4a" opacity="0.85" filter="url(#b2)"/>
<polygon points="550.5,317.1 566.5,314.3 573.1,323.7 571.3,333.1 562.8,335.9 552.4,329.3" fill="#cdbda8" opacity="0.95" filter="url(#b2)"/>
<polygon points="525.1,333.1 538.3,335.0 549.6,344.4 547.7,352.0 536.4,352.0 527.9,342.5" fill="#d0c3b5" opacity="0.95" filter="url(#b2)"/>
<polygon points="521.3,306.7 532.6,297.3 535.4,310.5 530.7,319.0 517.5,320.9" fill="#c6bbca" opacity="0.9" filter="url(#b2)"/>
<polygon points="560.9,342.5 574.1,340.7 576.0,352.0 570.3,365.2 560.9,365.2 557.1,353.8" fill="#d5cdd1" opacity="0.9" filter="url(#b2)"/>
<path d="M513.7693177534866,320.8661892197512 C515.34,320.40 520.37,320.08 523.1926121372031,318.03920090463623 C526.02,316.00 528.22,311.76 530.7312476441764,308.61590652091974 C533.24,305.47 533.87,301.71 538.2698831511497,299.1926121372032 C542.67,296.68 551.15,294.54 557.1164719185828,293.53863550697326 C563.08,292.53 569.37,292.22 574.0784018092725,293.1617037316246 C578.79,294.10 582.25,297.40 585.3863550697324,299.1926121372032 C588.53,300.98 591.67,303.12 592.9249905767056,303.90425932906146" fill="none" stroke="#a89a8c" stroke-width="1.8" stroke-linecap="round" opacity="0.6" filter="url(#b1)"/>
<path d="M521.3079532604598,327.4624952883528 C522.88,329.35 527.28,335.32 530.7312476441764,338.7704485488127 C534.19,342.23 538.27,345.37 542.0392009046362,348.19374293252923 C545.81,351.02 549.89,352.91 553.3471541650961,355.73237843950244 C556.80,358.56 561.20,363.59 562.7704485488126,365.155672823219" fill="none" stroke="#ab9c8a" stroke-width="1.8" stroke-linecap="round" opacity="0.6" filter="url(#b1)"/>
<path d="M566.5397663022993,335.00113079532605 C568.11,336.26 574.08,339.40 575.9630606860159,342.5397663022993 C577.85,345.68 578.48,350.08 577.8477195627592,353.84771956275915 C577.22,357.62 573.14,363.27 572.1937429325292,365.155672823219" fill="none" stroke="#b0a294" stroke-width="1.6" stroke-linecap="round" opacity="0.5" filter="url(#b1)"/>
<path d="M592.9249905767056,303.90425932906146 C594.65,304.22 602.35,302.96 603.2906143987939,305.78891820580475 C604.23,308.62 600.78,316.31 598.5789672069355,320.8661892197512 C596.38,325.42 591.51,331.07 590.0980022615906,333.11647191858276" fill="none" stroke="#927a5e" stroke-width="2.0" stroke-linecap="round" opacity="0.6" filter="url(#b1)"/>
<g transform="rotate(-28 555.2 303)" opacity="1">
<ellipse cx="555.2" cy="303" rx="9" ry="5" fill="#8c6878" filter="url(#b1)"/>
<ellipse cx="552.1" cy="301.5" rx="3.2" ry="1.7" fill="#5c384a" filter="url(#b03)"/>
<ellipse cx="557.9" cy="301.8" rx="3.2" ry="1.7" fill="#5c384a" filter="url(#b03)"/>
<ellipse cx="555.2" cy="304.9" rx="3.2" ry="1.7" fill="#5c384a" filter="url(#b03)"/>
</g>
<g transform="rotate(0 585.4 317.1)" opacity="1">
<ellipse cx="585.4" cy="317.1" rx="6.4" ry="6.4" fill="#5a3a30" filter="url(#b1)"/>
<ellipse cx="583.2" cy="315.2" rx="2.3" ry="2.1" fill="#2c1812" filter="url(#b03)"/>
<ellipse cx="587.3" cy="315.5" rx="2.3" ry="2.1" fill="#2c1812" filter="url(#b03)"/>
<ellipse cx="585.4" cy="319.5" rx="2.3" ry="2.1" fill="#2c1812" filter="url(#b03)"/>
</g>
<g transform="rotate(0 583.9 329)" opacity="1">
<ellipse cx="583.9" cy="329" rx="4.2" ry="4.2" fill="#4a1a28" filter="url(#b1)"/>
</g>
<g transform="rotate(-15 564.7 325.6)" opacity="1">
<ellipse cx="564.7" cy="325.6" rx="6" ry="7.4" fill="#b6a09a" filter="url(#b1)"/>
<ellipse cx="562.6" cy="323.4" rx="2.2" ry="2.4" fill="#8e727c" filter="url(#b03)"/>
<ellipse cx="566.5" cy="323.8" rx="2.2" ry="2.4" fill="#8e727c" filter="url(#b03)"/>
</g>
<g transform="rotate(35 536.4 343.5)" opacity="1">
<ellipse cx="536.4" cy="343.5" rx="7" ry="5.4" fill="#b8aabc" filter="url(#b1)"/>
<ellipse cx="533.9" cy="341.9" rx="2.5" ry="1.8" fill="#9a8ca6" filter="url(#b03)"/>
<ellipse cx="538.5" cy="342.1" rx="2.5" ry="1.8" fill="#9a8ca6" filter="url(#b03)"/>
</g>
<g transform="rotate(10 567.5 350.1)" opacity="1">
<ellipse cx="567.5" cy="350.1" rx="5" ry="6.4" fill="#bba8b6" filter="url(#b1)"/>
<ellipse cx="565.8" cy="348.2" rx="1.8" ry="2.1" fill="#927894" filter="url(#b03)"/>
<ellipse cx="569.0" cy="348.5" rx="1.8" ry="2.1" fill="#927894" filter="url(#b03)"/>
</g>
<g transform="rotate(0 565 362.9)" opacity="1">
<ellipse cx="565" cy="362.9" rx="4.1" ry="4" fill="#5c2c3c" filter="url(#b1)"/>
</g>
<g transform="rotate(15 528.8 309.6)" opacity="1">
<ellipse cx="528.8" cy="309.6" rx="4.8" ry="7" fill="#b0a2b8" filter="url(#b1)"/>
<ellipse cx="527.1" cy="307.5" rx="1.7" ry="2.3" fill="#9484a2" filter="url(#b03)"/>
<ellipse cx="530.2" cy="307.9" rx="1.7" ry="2.3" fill="#9484a2" filter="url(#b03)"/>
</g>
</g>
<rect x="576.3" y="365" width="26" height="2.6" fill="#111" />
<clipPath id="cl11"><rect x="414.4" y="377.5" width="94.7" height="72.8"/></clipPath>
<rect x="414.4" y="377.5" width="94.7" height="72.8" fill="#f1efed"/>
<g clip-path="url(#cl11)">
<polygon points="414.8,396.6 474.2,386.3 500.6,400.4 504.3,421.1 494.9,436.2 468.5,447.5 440.3,445.6 423.3,430.5 415.8,411.7" fill="#eee6df" opacity="1" filter="url(#b2)"/>
<polygon points="429.0,398.5 472.3,391.0 494.9,402.3 496.8,423.0 487.4,434.3 464.8,441.8 440.3,440.0 427.1,426.8" fill="#eadfd6" opacity="0.7" filter="url(#b3)"/>
<circle cx="474.2" cy="392.8" r="2" fill="#f8f6f4" filter="url(#b06)"/>
<circle cx="431.8" cy="428.7" r="2" fill="#f8f6f4" filter="url(#b06)"/>
<circle cx="468.5" cy="401.9" r="2" fill="#f8f6f4" filter="url(#b06)"/>
<g transform="rotate(-45 437.1 401.0)" opacity="1">
<ellipse cx="437.1" cy="401.0" rx="6.3" ry="6.1" fill="#b07a68" filter="url(#b06)"/>
<ellipse cx="434.9" cy="399.2" rx="2.3" ry="2.0" fill="#5e2a1c" filter="url(#b03)"/>
<ellipse cx="439.0" cy="399.5" rx="2.3" ry="2.0" fill="#5e2a1c" filter="url(#b03)"/>
<ellipse cx="437.1" cy="403.3" rx="2.3" ry="2.0" fill="#5e2a1c" filter="url(#b03)"/>
</g>
<g transform="rotate(-8 465.7 396.6)" opacity="1">
<ellipse cx="465.7" cy="396.6" rx="6.3" ry="6.1" fill="#a0664e" filter="url(#b06)"/>
<ellipse cx="463.5" cy="394.8" rx="2.3" ry="2.0" fill="#5e2a1c" filter="url(#b03)"/>
<ellipse cx="467.6" cy="395.1" rx="2.3" ry="2.0" fill="#5e2a1c" filter="url(#b03)"/>
<ellipse cx="465.7" cy="398.9" rx="2.3" ry="2.0" fill="#5e2a1c" filter="url(#b03)"/>
</g>
<g transform="rotate(29 492.7 402.3)" opacity="1">
<ellipse cx="492.7" cy="402.3" rx="6.3" ry="6.1" fill="#915640" filter="url(#b06)"/>
<ellipse cx="490.5" cy="400.5" rx="2.3" ry="2.0" fill="#5e2a1c" filter="url(#b03)"/>
<ellipse cx="494.6" cy="400.8" rx="2.3" ry="2.0" fill="#5e2a1c" filter="url(#b03)"/>
<ellipse cx="492.7" cy="404.6" rx="2.3" ry="2.0" fill="#5e2a1c" filter="url(#b03)"/>
</g>
<g transform="rotate(-24 482.1 403.8)" opacity="1">
<ellipse cx="482.1" cy="403.8" rx="6.3" ry="6.1" fill="#a0664e" filter="url(#b06)"/>
<ellipse cx="479.9" cy="402.0" rx="2.3" ry="2.0" fill="#5e2a1c" filter="url(#b03)"/>
<ellipse cx="484.0" cy="402.3" rx="2.3" ry="2.0" fill="#5e2a1c" filter="url(#b03)"/>
<ellipse cx="482.1" cy="406.1" rx="2.3" ry="2.0" fill="#5e2a1c" filter="url(#b03)"/>
</g>
<g transform="rotate(13 450.6 405.5)" opacity="1">
<ellipse cx="450.6" cy="405.5" rx="6.3" ry="6.1" fill="#a0664e" filter="url(#b06)"/>
<ellipse cx="448.4" cy="403.7" rx="2.3" ry="2.0" fill="#5e2a1c" filter="url(#b03)"/>
<ellipse cx="452.5" cy="404.0" rx="2.3" ry="2.0" fill="#5e2a1c" filter="url(#b03)"/>
<ellipse cx="450.6" cy="407.8" rx="2.3" ry="2.0" fill="#5e2a1c" filter="url(#b03)"/>
</g>
<g transform="rotate(-40 462.5 407.0)" opacity="1">
<ellipse cx="462.5" cy="407.0" rx="6.3" ry="6.1" fill="#a0664e" filter="url(#b06)"/>
<ellipse cx="460.3" cy="405.2" rx="2.3" ry="2.0" fill="#5e2a1c" filter="url(#b03)"/>
<ellipse cx="464.4" cy="405.5" rx="2.3" ry="2.0" fill="#5e2a1c" filter="url(#b03)"/>
<ellipse cx="462.5" cy="409.3" rx="2.3" ry="2.0" fill="#5e2a1c" filter="url(#b03)"/>
</g>
<g transform="rotate(-3 429.5 414.1)" opacity="1">
<ellipse cx="429.5" cy="414.1" rx="6.3" ry="6.1" fill="#b07a68" filter="url(#b06)"/>
<ellipse cx="427.3" cy="412.3" rx="2.3" ry="2.0" fill="#5e2a1c" filter="url(#b03)"/>
<ellipse cx="431.4" cy="412.6" rx="2.3" ry="2.0" fill="#5e2a1c" filter="url(#b03)"/>
<ellipse cx="429.5" cy="416.4" rx="2.3" ry="2.0" fill="#5e2a1c" filter="url(#b03)"/>
</g>
<g transform="rotate(34 441.8 414.0)" opacity="1">
<ellipse cx="441.8" cy="414.0" rx="6.3" ry="6.1" fill="#a0664e" filter="url(#b06)"/>
<ellipse cx="439.6" cy="412.2" rx="2.3" ry="2.0" fill="#5e2a1c" filter="url(#b03)"/>
<ellipse cx="443.7" cy="412.5" rx="2.3" ry="2.0" fill="#5e2a1c" filter="url(#b03)"/>
<ellipse cx="441.8" cy="416.3" rx="2.3" ry="2.0" fill="#5e2a1c" filter="url(#b03)"/>
</g>
<g transform="rotate(-19 473.8 411.7)" opacity="1">
<ellipse cx="473.8" cy="411.7" rx="6.3" ry="6.1" fill="#a0664e" filter="url(#b06)"/>
<ellipse cx="471.6" cy="409.9" rx="2.3" ry="2.0" fill="#5e2a1c" filter="url(#b03)"/>
<ellipse cx="475.7" cy="410.2" rx="2.3" ry="2.0" fill="#5e2a1c" filter="url(#b03)"/>
<ellipse cx="473.8" cy="414.0" rx="2.3" ry="2.0" fill="#5e2a1c" filter="url(#b03)"/>
</g>
<g transform="rotate(18 485.1 421.1)" opacity="1">
<ellipse cx="485.1" cy="421.1" rx="6.7" ry="6.1" fill="#915640" filter="url(#b06)"/>
<ellipse cx="482.8" cy="419.3" rx="2.4" ry="2.0" fill="#5e2a1c" filter="url(#b03)"/>
<ellipse cx="487.1" cy="419.6" rx="2.4" ry="2.0" fill="#5e2a1c" filter="url(#b03)"/>
<ellipse cx="485.1" cy="423.4" rx="2.4" ry="2.0" fill="#5e2a1c" filter="url(#b03)"/>
</g>
<g transform="rotate(-35 458.2 419.8)" opacity="1">
<ellipse cx="458.2" cy="419.8" rx="6.3" ry="6.1" fill="#a0664e" filter="url(#b06)"/>
<ellipse cx="456.0" cy="418.0" rx="2.3" ry="2.0" fill="#5e2a1c" filter="url(#b03)"/>
<ellipse cx="460.1" cy="418.3" rx="2.3" ry="2.0" fill="#5e2a1c" filter="url(#b03)"/>
<ellipse cx="458.2" cy="422.1" rx="2.3" ry="2.0" fill="#5e2a1c" filter="url(#b03)"/>
</g>
<g transform="rotate(2 446.5 421.7)" opacity="1">
<ellipse cx="446.5" cy="421.7" rx="6.3" ry="6.1" fill="#a0664e" filter="url(#b06)"/>
<ellipse cx="444.3" cy="419.9" rx="2.3" ry="2.0" fill="#5e2a1c" filter="url(#b03)"/>
<ellipse cx="448.4" cy="420.2" rx="2.3" ry="2.0" fill="#5e2a1c" filter="url(#b03)"/>
<ellipse cx="446.5" cy="424.0" rx="2.3" ry="2.0" fill="#5e2a1c" filter="url(#b03)"/>
</g>
<g transform="rotate(39 470.0 420.2)" opacity="1">
<ellipse cx="470.0" cy="420.2" rx="6.3" ry="6.1" fill="#a0664e" filter="url(#b06)"/>
<ellipse cx="467.8" cy="418.4" rx="2.3" ry="2.0" fill="#5e2a1c" filter="url(#b03)"/>
<ellipse cx="471.9" cy="418.7" rx="2.3" ry="2.0" fill="#5e2a1c" filter="url(#b03)"/>
<ellipse cx="470.0" cy="422.5" rx="2.3" ry="2.0" fill="#5e2a1c" filter="url(#b03)"/>
</g>
<g transform="rotate(-14 440.6 431.5)" opacity="1">
<ellipse cx="440.6" cy="431.5" rx="6.3" ry="6.1" fill="#a0664e" filter="url(#b06)"/>
<ellipse cx="438.4" cy="429.7" rx="2.3" ry="2.0" fill="#5e2a1c" filter="url(#b03)"/>
<ellipse cx="442.5" cy="430.0" rx="2.3" ry="2.0" fill="#5e2a1c" filter="url(#b03)"/>
<ellipse cx="440.6" cy="433.8" rx="2.3" ry="2.0" fill="#5e2a1c" filter="url(#b03)"/>
</g>
<g transform="rotate(23 470.8 430.5)" opacity="1">
<ellipse cx="470.8" cy="430.5" rx="6.3" ry="6.1" fill="#a0664e" filter="url(#b06)"/>
<ellipse cx="468.6" cy="428.7" rx="2.3" ry="2.0" fill="#5e2a1c" filter="url(#b03)"/>
<ellipse cx="472.7" cy="429.0" rx="2.3" ry="2.0" fill="#5e2a1c" filter="url(#b03)"/>
<ellipse cx="470.8" cy="432.8" rx="2.3" ry="2.0" fill="#5e2a1c" filter="url(#b03)"/>
</g>
<g transform="rotate(-30 454.8 434.9)" opacity="1">
<ellipse cx="454.8" cy="434.9" rx="6.3" ry="6.1" fill="#a0664e" filter="url(#b06)"/>
<ellipse cx="452.6" cy="433.1" rx="2.3" ry="2.0" fill="#5e2a1c" filter="url(#b03)"/>
<ellipse cx="456.7" cy="433.4" rx="2.3" ry="2.0" fill="#5e2a1c" filter="url(#b03)"/>
<ellipse cx="454.8" cy="437.2" rx="2.3" ry="2.0" fill="#5e2a1c" filter="url(#b03)"/>
</g>
<circle cx="419.2" cy="387.5" r="0.6" fill="#555"/>
</g>
<rect x="478.9" y="445" width="25.8" height="2.5" fill="#111" />
<clipPath id="cl12"><rect x="511.8" y="377.7" width="93.5" height="73.2"/></clipPath>
<rect x="511.8" y="377.7" width="93.5" height="73.2" fill="#f0f2f3"/>
<g clip-path="url(#cl12)">
<polygon points="510.0,411.7 538.3,407.9 562.8,423.0 566.5,449.4 510.0,449.4" fill="#e6f0f0" opacity="0.9" filter="url(#b5)"/>
<polygon points="538.3,379.7 572.2,379.7 598.6,396.6 596.7,423.0 585.4,449.4 566.5,449.4 559.0,423.0 547.7,402.3" fill="#efe8e4" opacity="0.9" filter="url(#b3)"/>
<polygon points="521.3,438.1 523.2,424.9 538.3,417.3 536.4,430.5 530.7,441.8" fill="#d8c9b4" opacity="0.9" filter="url(#b2)"/>
<g transform="rotate(42 556.2 390)" opacity="1">
<ellipse cx="556.2" cy="390" rx="10.4" ry="6.4" fill="#8a5434" filter="url(#b06)"/>
</g>
<g transform="rotate(42 556.2 390)" opacity="1">
<ellipse cx="556.2" cy="390" rx="9.0" ry="5.1" fill="#bb8664" filter="url(#b06)"/>
</g>
<circle cx="553" cy="386.8" r="1.9" fill="#3a1824" filter="url(#b06)"/>
<circle cx="560" cy="387.8" r="1.9" fill="#3a1824" filter="url(#b06)"/>
<circle cx="560.5" cy="393.4" r="1.9" fill="#3a1824" filter="url(#b06)"/>
<g transform="rotate(0 580.1 397.6)" opacity="1">
<ellipse cx="580.1" cy="397.6" rx="5.6" ry="6.2" fill="#d8bcc8" filter="url(#b1)"/>
<ellipse cx="578.1" cy="395.7" rx="2.0" ry="2.0" fill="#b890a8" filter="url(#b03)"/>
</g>
<g transform="rotate(0 571.3 408.5)" opacity="1">
<ellipse cx="571.3" cy="408.5" rx="7" ry="6.6" fill="#d8d1dc" filter="url(#b1)"/>
<ellipse cx="568.8" cy="406.5" rx="2.5" ry="2.2" fill="#b8a8c0" filter="url(#b03)"/>
</g>
<g transform="rotate(-20 566.5 427.7)" opacity="1">
<ellipse cx="566.5" cy="427.7" rx="5.4" ry="6.8" fill="#dab6be" filter="url(#b1)"/>
<ellipse cx="564.6" cy="425.7" rx="1.9" ry="2.2" fill="#8a4a5a" filter="url(#b03)"/>
</g>
<g transform="rotate(-20 576.9 441.5)" opacity="1">
<ellipse cx="576.9" cy="441.5" rx="4.8" ry="5.8" fill="#c2a6c2" filter="url(#b1)"/>
<ellipse cx="575.2" cy="439.8" rx="1.7" ry="1.9" fill="#a080a8" filter="url(#b03)"/>
</g>
<g transform="rotate(20 529.8 430.5)" opacity="1">
<ellipse cx="529.8" cy="430.5" rx="4.6" ry="8.6" fill="#c4b4cc" filter="url(#b1)"/>
<ellipse cx="528.2" cy="427.9" rx="1.7" ry="2.8" fill="#a898b8" filter="url(#b03)"/>
</g>
</g>
<rect x="576.5" y="445" width="26.2" height="2.5" fill="#111" />
</g>
<g id="panelE">
<clipPath id="cl13"><rect x="668.2" y="334.3" width="95.5" height="29.8"/></clipPath>
<rect x="668.2" y="334.3" width="95.5" height="29.8" fill="#bebebe"/>
<g clip-path="url(#cl13)">
<ellipse cx="715" cy="359.5" rx="50" ry="4.5" fill="#d4d4d4" opacity="1" filter="url(#b3)"/>
<ellipse cx="672" cy="352" rx="4" ry="11" fill="#dcdcdc" opacity="1" filter="url(#b3)"/>
<ellipse cx="700" cy="336" rx="20" ry="2" fill="#b0b0b0" opacity="1" filter="url(#b2)"/>
<ellipse cx="705" cy="348.6" rx="9" ry="2.4" fill="#5e5e5e" opacity="0.9" filter="url(#b1)"/>
<path d="M674.3,339.2 L675.3,339.6 L676.7,340.1 L678.5,340.8 L679.6,341.2 L680.8,341.8 L682.1,342.3 L683.3,342.8 L684.4,343.2 L685.2,343.4 L686.1,343.5 L686.9,343.6 L687.8,343.6 L688.9,343.6 L690.1,343.5 L691.1,343.5 L692.1,343.4 L693.2,343.2 L694.3,343.1 L695.5,343.0 L696.6,342.9 L697.9,342.8 L699.2,342.6 L700.6,342.5 L701.9,342.4 L703.1,342.3 L704.5,342.1 L705.8,341.9 L707.1,341.7 L708.5,341.5 L710.4,341.3 L712.1,341.2 L713.2,341.2 A2.86,2.86 0 0 1 714.0,346.8 L712.9,347.1 L711.4,347.5 L709.9,347.9 L708.9,348.3 L707.7,348.8 L706.4,349.4 L704.9,349.9 L703.6,350.3 L702.3,350.8 L700.8,351.2 L699.3,351.6 L697.8,351.9 L696.5,352.1 L695.2,352.2 L693.9,352.3 L692.6,352.4 L691.2,352.3 L689.9,352.3 L688.6,352.2 L687.2,352.0 L685.7,351.8 L684.2,351.4 L682.6,350.8 L681.2,350.0 L679.8,349.2 L678.6,348.3 L677.4,347.4 L676.4,346.6 L675.5,345.8 L674.0,344.6 L672.8,343.5 L672.1,342.8 A2.10,2.10 0 0 1 674.3,339.2Z" fill="#4e4e4e" opacity="0.8" filter="url(#b1)"/>
<path d="M673.9,337.0 L674.9,337.4 L676.3,337.9 L678.1,338.7 L679.2,339.1 L680.4,339.7 L681.6,340.3 L682.8,340.8 L684.0,341.3 L684.9,341.5 L685.9,341.7 L686.8,341.8 L687.8,341.8 L688.8,341.8 L690.0,341.8 L691.1,341.7 L692.2,341.6 L693.3,341.5 L694.5,341.4 L695.6,341.2 L696.7,341.1 L698.1,341.0 L699.4,340.9 L700.8,340.7 L702.1,340.6 L703.3,340.4 L704.7,340.2 L706.0,340.0 L707.3,339.8 L708.7,339.5 L710.5,339.3 L712.2,339.2 L713.3,339.2 A2.06,2.06 0 0 1 713.9,343.2 L712.8,343.5 L711.3,343.8 L709.7,344.3 L708.7,344.7 L707.5,345.1 L706.2,345.6 L704.7,346.2 L703.4,346.6 L702.1,347.0 L700.6,347.4 L699.2,347.8 L697.7,348.1 L696.4,348.2 L695.1,348.4 L693.8,348.5 L692.5,348.5 L691.2,348.5 L690.0,348.4 L688.6,348.4 L687.3,348.2 L685.9,348.0 L684.4,347.6 L682.9,347.1 L681.6,346.4 L680.3,345.6 L679.0,344.7 L677.8,343.8 L676.8,343.0 L675.9,342.3 L674.4,341.1 L673.2,340.1 L672.5,339.4 A1.42,1.42 0 0 1 673.9,337.0Z" fill="#050505" opacity="1" filter="url(#b06)"/>
<path d="M719.3,339.9 L720.8,339.9 L723.1,340.0 L724.3,340.3 L725.5,340.5 L726.7,340.7 L727.9,340.9 L728.8,341.0 L729.8,341.0 L730.9,341.0 L732.1,340.9 L733.3,340.9 L734.6,340.9 L736.0,340.9 L737.3,340.9 L738.5,340.9 L739.7,340.9 L740.7,340.9 L741.9,340.8 L743.1,340.8 L744.2,340.7 L745.4,340.6 L746.7,340.5 L748.0,340.3 L749.3,340.1 L750.7,340.0 L752.1,340.0 L753.5,340.1 L754.9,340.2 L756.0,340.3 L757.8,340.5 L759.1,340.6 A2.96,2.96 0 0 1 760.9,346.2 L759.8,347.1 L758.0,348.3 L756.8,348.9 L755.5,349.6 L754.1,350.3 L752.7,350.8 L751.3,351.2 L749.8,351.5 L748.3,351.8 L746.6,352.0 L745.3,352.1 L743.9,352.3 L742.5,352.4 L741.1,352.5 L739.7,352.5 L738.0,352.4 L736.4,352.2 L734.9,352.0 L733.4,351.7 L732.2,351.4 L730.9,351.1 L729.5,350.8 L728.1,350.4 L726.6,349.8 L725.1,349.2 L723.8,348.4 L722.6,347.7 L721.6,347.1 L720.9,346.6 L719.1,345.4 L717.9,344.7 A2.48,2.48 0 0 1 719.3,339.9Z" fill="#4e4e4e" opacity="0.8" filter="url(#b1)"/>
<path d="M719.1,337.8 L720.5,337.9 L722.8,338.1 L724.0,338.3 L725.2,338.6 L726.4,338.9 L727.5,339.1 L728.6,339.2 L729.6,339.3 L730.8,339.3 L732.0,339.3 L733.2,339.3 L734.4,339.3 L735.9,339.3 L737.2,339.4 L738.4,339.4 L739.7,339.4 L740.8,339.3 L741.9,339.3 L743.1,339.2 L744.4,339.2 L745.5,339.1 L746.9,338.9 L748.2,338.7 L749.5,338.5 L750.9,338.4 L752.3,338.3 L753.8,338.4 L755.1,338.4 L756.2,338.5 L758.1,338.5 L759.3,338.6 A2.14,2.14 0 0 1 760.7,342.6 L759.6,343.4 L757.8,344.5 L756.6,345.1 L755.3,345.7 L753.9,346.3 L752.5,346.8 L751.1,347.2 L749.6,347.5 L748.1,347.7 L746.5,347.9 L745.2,348.1 L743.8,348.2 L742.5,348.4 L741.1,348.4 L739.7,348.4 L738.1,348.4 L736.5,348.2 L735.0,348.0 L733.6,347.7 L732.3,347.5 L731.0,347.2 L729.7,346.9 L728.3,346.5 L726.8,346.0 L725.4,345.4 L724.1,344.7 L723.0,344.0 L722.0,343.4 L721.2,342.9 L719.4,341.9 L718.1,341.2 A1.74,1.74 0 0 1 719.1,337.8Z" fill="#050505" opacity="1" filter="url(#b06)"/>
<path d="M677.2802124833997,354.7011952191235 C678.39,355.32 681.49,357.31 683.9203187250996,358.4196547144754 C686.36,359.53 688.57,361.08 691.8884462151394,361.3413014608234 C695.21,361.61 700.19,360.81 703.8406374501992,360.0132802124834 C707.49,359.22 712.14,357.14 713.800796812749,356.5604249667995" fill="none" stroke="#989898" stroke-width="1.7" stroke-linecap="round" stroke-linejoin="round" opacity="1" filter="url(#b1)"/>
<path d="M679.9362549800796,352.31075697211156 C682.15,352.93 687.90,355.94 693.2164674634794,356.02921646746347 C698.53,356.12 708.71,353.37 711.808764940239,352.84196547144757" fill="none" stroke="#acacac" stroke-width="1.4" stroke-linecap="round" stroke-linejoin="round" opacity="1" filter="url(#b1)"/>
<path d="M719.7768924302788,354.7011952191235 C721.99,355.23 727.97,357.22 733.0571049136786,357.8884462151394 C738.15,358.55 745.78,358.91 750.3213811420983,358.68525896414343 C754.86,358.46 758.62,356.91 760.2815405046481,356.5604249667995" fill="none" stroke="#a0a0a0" stroke-width="1.7" stroke-linecap="round" stroke-linejoin="round" opacity="1" filter="url(#b1)"/>
</g>
<clipPath id="cl14"><rect x="763.6" y="333.7" width="86.4" height="30.3"/></clipPath>
<rect x="763.6" y="333.7" width="86.4" height="30.3" fill="#b0b0b0"/>
<g clip-path="url(#cl14)">
<rect x="763.4" y="333.7" width="0.9" height="30.3" fill="#8e8e8e" filter="url(#b06)" opacity="0.7"/>
<ellipse cx="790" cy="356" rx="22" ry="6" fill="#c6c6c6" opacity="1" filter="url(#b3)"/>
<ellipse cx="828" cy="358" rx="18" ry="5" fill="#c2c2c2" opacity="1" filter="url(#b3)"/>
<path d="M765.8,342.5 L766.9,342.4 L768.5,342.3 L769.8,342.2 L771.4,342.2 L773.1,342.2 L774.5,342.2 L775.8,342.3 L777.1,342.3 L778.4,342.4 L779.6,342.4 L780.9,342.5 L782.1,342.5 L783.3,342.5 L784.5,342.5 L785.6,342.5 L786.7,342.5 L787.9,342.4 L789.1,342.3 L790.2,342.2 L791.6,342.1 L792.9,341.9 L794.3,341.8 L795.5,341.6 L797.0,341.5 L798.2,341.4 L799.1,341.4 A3.15,3.15 0 0 1 800.9,347.4 L800.1,347.9 L798.9,348.5 L797.5,349.2 L796.3,349.7 L795.0,350.2 L793.4,350.7 L791.8,351.2 L790.5,351.5 L789.1,351.8 L787.7,352.0 L786.2,352.2 L784.7,352.3 L783.2,352.3 L781.7,352.2 L780.3,352.1 L778.9,352.0 L777.6,351.8 L776.0,351.6 L774.5,351.3 L773.3,350.9 L772.1,350.6 L770.5,350.2 L769.0,349.9 L767.5,349.5 L765.7,348.8 L764.6,348.3 A2.96,2.96 0 0 1 765.8,342.5Z" fill="#4e4e4e" opacity="0.8" filter="url(#b1)"/>
<path d="M765.6,340.5 L766.7,340.5 L768.4,340.4 L769.7,340.4 L771.3,340.4 L773.0,340.4 L774.3,340.5 L775.7,340.5 L777.0,340.6 L778.3,340.7 L779.5,340.7 L780.8,340.8 L782.1,340.8 L783.3,340.9 L784.5,340.9 L785.7,340.8 L786.8,340.8 L788.1,340.7 L789.3,340.6 L790.4,340.5 L791.8,340.3 L793.2,340.1 L794.5,339.9 L795.7,339.8 L797.2,339.6 L798.5,339.5 L799.3,339.4 A2.30,2.30 0 0 1 800.7,343.8 L799.9,344.2 L798.7,344.8 L797.3,345.4 L796.1,345.9 L794.7,346.4 L793.2,346.9 L791.6,347.3 L790.3,347.6 L789.0,347.9 L787.6,348.1 L786.2,348.2 L784.7,348.3 L783.2,348.4 L781.8,348.3 L780.3,348.2 L779.0,348.1 L777.7,347.9 L776.1,347.7 L774.7,347.4 L773.4,347.1 L772.2,346.8 L770.6,346.5 L769.1,346.1 L767.6,345.8 L765.9,345.2 L764.8,344.7 A2.14,2.14 0 0 1 765.6,340.5Z" fill="#050505" opacity="1" filter="url(#b06)"/>
<path d="M807.0,339.8 L807.9,340.2 L809.3,340.6 L810.8,341.2 L811.9,341.6 L813.2,342.1 L814.5,342.5 L815.5,342.8 L816.6,343.1 L817.7,343.4 L819.0,343.6 L820.1,343.8 L821.1,344.0 L822.1,344.1 L823.1,344.1 L824.1,344.1 L825.3,343.9 L826.7,343.7 L828.1,343.4 L829.2,343.2 L830.4,342.9 L831.5,342.6 L832.6,342.3 L833.7,342.0 L835.0,341.7 L836.2,341.3 L837.3,341.0 L838.5,340.7 L840.1,340.2 L841.6,339.7 L842.7,339.4 A3.91,3.91 0 0 1 845.7,346.6 L844.7,347.1 L843.2,347.9 L841.5,348.7 L840.3,349.2 L839.1,349.8 L837.7,350.3 L836.3,350.8 L835.1,351.1 L833.8,351.5 L832.5,351.8 L831.2,352.1 L829.9,352.4 L828.3,352.7 L826.7,353.0 L824.9,353.2 L823.1,353.3 L821.4,353.2 L819.8,353.0 L818.3,352.7 L817.0,352.4 L815.4,351.9 L813.8,351.4 L812.1,350.6 L810.8,349.8 L809.5,348.9 L808.3,347.9 L807.2,347.0 L806.0,345.9 L804.9,344.7 L804.2,344.0 A2.48,2.48 0 0 1 807.0,339.8Z" fill="#4e4e4e" opacity="0.8" filter="url(#b1)"/>
<path d="M806.8,338.0 L807.7,338.2 L809.1,338.5 L810.6,338.9 L812.1,339.3 L813.4,339.6 L814.7,340.1 L815.9,340.4 L816.9,340.6 L817.8,340.8 L818.6,340.8 L819.5,340.9 L820.5,340.9 L821.6,340.9 L822.9,340.8 L824.1,340.7 L825.3,340.7 L826.5,340.5 L827.8,340.4 L829.2,340.2 L830.5,340.0 L831.8,339.8 L833.0,339.6 L834.5,339.3 L835.8,338.9 L837.1,338.5 L838.3,338.1 L839.5,337.8 L841.2,337.4 L842.7,337.3 L843.7,337.1 A3.40,3.40 0 0 1 844.7,343.9 L843.8,344.0 L842.5,344.3 L840.9,344.6 L839.9,344.8 L838.8,345.0 L837.5,345.3 L836.1,345.6 L834.6,346.0 L833.4,346.4 L832.2,346.8 L830.9,347.2 L829.5,347.7 L828.1,348.2 L826.6,348.6 L825.3,348.9 L823.8,349.1 L822.3,349.3 L820.9,349.5 L819.4,349.6 L817.8,349.5 L816.2,349.2 L814.3,348.6 L812.7,347.8 L811.3,347.0 L810.1,346.1 L809.1,345.3 L807.8,344.3 L806.5,343.1 L805.5,342.1 L804.8,341.4 A2.00,2.00 0 0 1 806.8,338.0Z" fill="#050505" opacity="1" filter="url(#b06)"/>
<path d="M767.2961487383798,358.1540504648074 C770.17,358.38 779.03,359.70 784.5604249667995,359.48207171314743 C790.09,359.26 797.84,357.27 800.4966799468791,356.8260292164675" fill="none" stroke="#8a8a8a" stroke-width="1.7" stroke-linecap="round" stroke-linejoin="round" opacity="1" filter="url(#b1)"/>
<path d="M807.136786188579,354.7011952191235 C810.01,355.37 818.20,358.60 824.4010624169987,358.68525896414343 C830.60,358.77 841.00,355.81 844.3213811420983,355.2324037184595" fill="none" stroke="#909090" stroke-width="1.7" stroke-linecap="round" stroke-linejoin="round" opacity="1" filter="url(#b1)"/>
</g>
<clipPath id="cl15"><rect x="667" y="367.8" width="95" height="20.7"/></clipPath>
<rect x="667" y="367.8" width="95" height="20.7" fill="#c4c4c4"/>
<g clip-path="url(#cl15)">
<ellipse cx="700" cy="371" rx="40" ry="2.5" fill="#d2d2d2" opacity="1" filter="url(#b2)"/>
<path d="M670.7,376.8 L672.0,376.8 L673.9,376.7 L675.0,376.7 L676.3,376.7 L677.6,376.7 L679.0,376.7 L680.2,376.7 L681.4,376.8 L682.6,376.8 L684.0,376.9 L685.2,377.0 L686.4,377.1 L687.7,377.2 L688.9,377.2 L690.1,377.3 L691.4,377.3 L692.5,377.3 L693.7,377.3 L695.1,377.3 L696.4,377.3 L697.9,377.4 L699.4,377.5 L700.9,377.5 L702.1,377.6 L703.9,377.8 L705.3,377.9 L706.6,378.1 L708.2,378.3 L709.7,378.5 L710.7,378.7 A1.40,1.40 0 0 1 710.5,381.5 L709.4,381.5 L707.9,381.5 L706.4,381.5 L705.0,381.4 L703.5,381.3 L701.9,381.2 L700.6,381.1 L699.2,380.9 L697.7,380.8 L696.2,380.6 L694.9,380.5 L693.5,380.3 L692.4,380.2 L691.2,380.0 L689.9,379.9 L688.7,379.8 L687.5,379.6 L686.2,379.5 L685.0,379.4 L683.8,379.3 L682.5,379.2 L681.4,379.2 L680.2,379.2 L679.0,379.3 L677.8,379.4 L676.5,379.6 L675.2,379.8 L674.1,379.9 L672.2,380.1 L670.9,380.2 A1.70,1.70 0 0 1 670.7,376.8Z" fill="#141414" opacity="1" filter="url(#b06)"/>
<ellipse cx="698.6" cy="379.1" rx="3.2" ry="3.1" fill="#0c0c0c" opacity="1" filter="url(#b06)"/>
<ellipse cx="672" cy="378.5" rx="2.2" ry="1.8" fill="#111" opacity="1" filter="url(#b06)"/>
<path d="M720.3,378.2 L721.3,378.2 L722.7,378.1 L724.4,378.0 L726.1,378.0 L727.4,378.0 L728.8,378.0 L730.2,377.9 L731.6,377.9 L733.1,377.9 L734.3,377.9 L735.6,377.9 L736.9,377.9 L738.2,377.9 L739.6,377.8 L740.9,377.8 L742.3,377.8 L743.7,377.7 L745.1,377.7 L746.4,377.7 L747.7,377.6 L748.8,377.5 L750.2,377.3 L751.4,377.0 L752.5,376.7 L753.4,376.5 L755.3,375.9 L756.6,375.4 A2.80,2.80 0 0 1 758.2,380.8 L756.7,381.1 L754.6,381.5 L753.4,381.7 L752.2,381.8 L750.8,382.0 L749.2,382.1 L748.0,382.2 L746.7,382.3 L745.3,382.3 L743.9,382.4 L742.5,382.5 L741.1,382.6 L739.8,382.7 L738.4,382.8 L737.1,382.9 L735.8,383.0 L734.4,383.1 L733.1,383.1 L731.6,383.1 L730.1,383.1 L728.7,383.0 L727.3,382.9 L725.9,382.8 L724.2,382.7 L722.6,382.5 L721.1,382.3 L720.1,382.2 A2.00,2.00 0 0 1 720.3,378.2Z" fill="#101010" opacity="1" filter="url(#b06)"/>
</g>
<clipPath id="cl16"><rect x="764" y="368.5" width="86.7" height="19.9"/></clipPath>
<rect x="764" y="368.5" width="86.7" height="19.9" fill="#c8c8c8"/>
<g clip-path="url(#cl16)">
<path d="M768.3,376.6 L769.4,376.2 L770.8,375.7 L772.2,375.4 L773.9,375.3 L775.2,375.4 L776.5,375.7 L777.8,376.0 L779.2,376.2 L780.5,376.4 L782.0,376.6 L783.3,376.7 L784.6,376.8 L786.0,376.7 L787.4,376.4 L788.8,376.2 L790.0,376.0 L791.3,375.9 L792.6,375.7 L793.9,375.6 L795.7,375.7 L797.1,375.9 L798.5,376.2 L799.5,376.4 A2.70,2.70 0 0 1 799.3,381.8 L798.3,381.9 L796.9,382.1 L795.5,382.2 L793.9,382.2 L793.0,382.2 L791.7,382.2 L790.4,382.2 L789.2,382.2 L787.7,382.1 L786.2,382.1 L784.6,382.0 L783.2,382.1 L781.7,382.1 L780.3,382.1 L778.8,382.2 L777.4,382.3 L776.1,382.4 L774.8,382.5 L773.9,382.5 L772.4,382.5 L771.2,382.3 L769.6,381.9 L768.5,381.6 A2.50,2.50 0 0 1 768.3,376.6Z" fill="#060606" opacity="1" filter="url(#b06)"/>
<path d="M807.6,375.8 L808.9,375.9 L810.6,376.2 L811.6,376.3 L812.6,376.5 L813.9,376.6 L814.8,376.6 L815.9,376.5 L817.2,376.4 L818.5,376.3 L819.8,376.2 L821.2,376.1 L822.6,376.0 L824.0,375.8 L825.4,375.7 L826.8,375.5 L828.1,375.3 L829.5,375.1 L830.9,374.9 L832.2,374.6 L833.5,374.3 L834.8,374.1 L836.1,373.7 L837.4,373.4 L838.6,373.1 L839.7,372.9 L841.8,372.7 L843.1,372.7 A3.30,3.30 0 0 1 844.1,379.3 L842.9,379.6 L840.9,380.1 L839.9,380.3 L838.7,380.4 L837.3,380.6 L835.9,380.7 L834.5,380.9 L833.1,381.0 L831.7,381.1 L830.3,381.2 L828.9,381.4 L827.4,381.5 L826.0,381.6 L824.5,381.7 L823.0,381.8 L821.6,381.9 L820.2,382.0 L818.9,382.1 L817.5,382.1 L816.2,382.2 L814.9,382.2 L813.7,382.2 L812.0,382.1 L810.6,381.9 L809.4,381.6 L807.7,381.1 L806.4,380.6 A2.50,2.50 0 0 1 807.6,375.8Z" fill="#060606" opacity="1" filter="url(#b06)"/>
</g>
<g filter="url(#b03)">
<text transform="translate(694.19 310.45) scale(1.0515 1)" font-size="12.61" font-weight="bold" fill="#111" stroke="#111" stroke-width="0.3" stroke-linejoin="round">HepG2</text>
<text transform="translate(797.12 310.45) scale(1.0912 1)" font-size="12.03" font-weight="bold" fill="#111" stroke="#111" stroke-width="0.3" stroke-linejoin="round">C3A</text>
<rect x="675.3" y="313.1" width="76.7" height="2.2" fill="#111" />
<rect x="773.6" y="313.1" width="76.4" height="2.2" fill="#111" />
<text transform="translate(669.79 328.25) scale(0.9852 1)" font-size="13.19" font-weight="bold" fill="#111" stroke="#111" stroke-width="0.3" stroke-linejoin="round">Vector</text>
<text transform="translate(725.84 327.95) scale(0.9714 1)" font-size="13.19" font-weight="bold" fill="#111" stroke="#111" stroke-width="0.3" stroke-linejoin="round">GCK</text>
<text transform="translate(762.79 328.05) scale(0.9946 1)" font-size="12.90" font-weight="bold" fill="#111" stroke="#111" stroke-width="0.3" stroke-linejoin="round">Vector</text>
<text transform="translate(818.12 327.85) scale(1.0140 1)" font-size="13.04" font-weight="bold" fill="#111" stroke="#111" stroke-width="0.3" stroke-linejoin="round">GCK</text>
<text transform="translate(853.54 343.25) scale(0.9858 1)" font-size="10.43" font-weight="bold" fill="#111" stroke="#111" stroke-width="0.3" stroke-linejoin="round">-PARP</text>
<text transform="translate(852.14 360.05) scale(0.9770 1)" font-size="10.43" font-weight="bold" fill="#111" stroke="#111" stroke-width="0.3" stroke-linejoin="round">-cl. PARP</text>
<text transform="translate(852.04 382.65) scale(0.9934 1)" font-size="10.43" font-weight="bold" fill="#111" stroke="#111" stroke-width="0.3" stroke-linejoin="round">-Actin</text>
<text transform="translate(720.34 416.35) scale(0.9693 1)" font-size="14.49" font-weight="bold" fill="#111" stroke="#111" stroke-width="0.3" stroke-linejoin="round">Immunoblot</text>
</g>
</g>
</svg>
</body>
</html>
